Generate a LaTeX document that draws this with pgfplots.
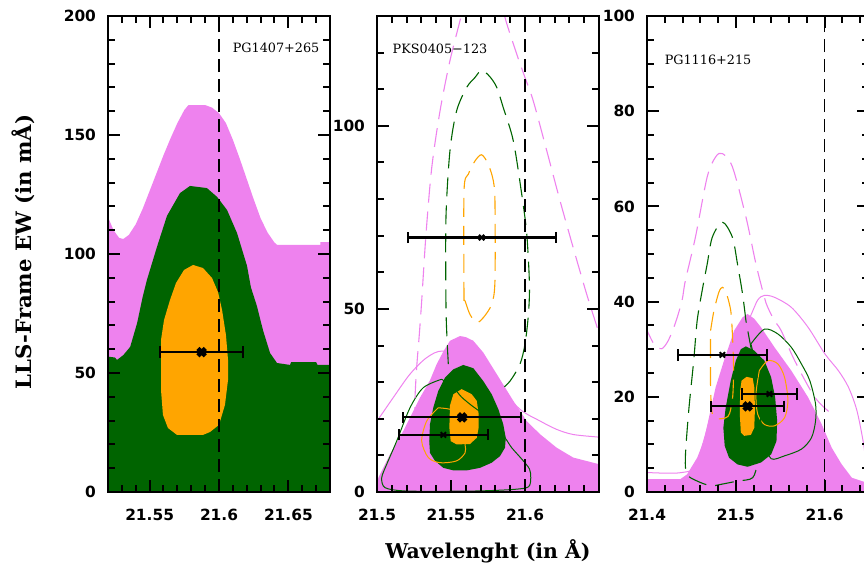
\documentclass[border=0pt]{standalone}
\usepackage{pgfplots}
\pgfplotsset{compat=1.18}
\usepackage{fontspec}
\newfontfamily\ticksf{DejaVu Sans}
\newfontfamily\labelsf{DejaVu Serif}

\definecolor{cviolet}{RGB}{238,130,238}
\definecolor{cgreen}{RGB}{0,100,0}
\definecolor{corange}{RGB}{255,165,0}

\tikzset{srclabel/.style={font=\labelsf\fontsize{6.4pt}{7pt}\selectfont}}

\pgfplotsset{
  panel/.style={
    scale only axis, width=111pt, height=238pt,
    anchor=south west,
    axis on top,
    axis line style={line width=1.4pt},
    every tick/.style={black, line width=1pt},
    major tick length=6pt, minor tick length=3.3pt,
    tick align=inside, xtick pos=both, ytick pos=both,
    xticklabel pos=lower, yticklabel pos=left,
    tick label style={font=\ticksf\bfseries\fontsize{7.7pt}{8pt}\selectfont},
    xticklabel style={yshift=-5pt},
    yticklabel style={xshift=-2.5pt},
  },
  vfill/.style={fill=cviolet, draw=none},
  gfill/.style={fill=cgreen, draw=none},
  ofill/.style={fill=corange, draw=none},
  thinc/.style={line width=0.5pt, smooth},
  dashc/.style={line width=0.55pt, smooth, dash pattern=on 9.5pt off 4.5pt},
  vline/.style={black, line width=0.85pt, dash pattern=on 6.5pt off 3.5pt},
  ebar/.style={black, line width=1pt, mark=x, mark size=1.9pt,
    error bars/x dir=both, error bars/x explicit,
    error bars/error bar style={line width=1.1pt},
    error bars/error mark options={rotate=90, mark size=2.8pt, line width=1.1pt}},
  ebarbold/.style={ebar, mark size=2.6pt, mark options={line width=2.2pt}},
}

\begin{document}
\begin{tikzpicture}[x=1pt,y=1pt]
\path[use as bounding box] (0,0) rectangle (432,282);
\clip (0,0) rectangle (432,282);

% ---------------- PG1407+265 ----------------
\begin{axis}[panel, at={(54pt,36pt)},
  xmin=21.52, xmax=21.68, ymin=0, ymax=200,
  xtick={21.55,21.6,21.65}, xticklabels={21.55,21.6,21.65},
  minor xtick={21.53,21.54,21.56,21.57,21.58,21.59,21.61,21.62,21.63,21.64,21.66,21.67},
  ytick={0,50,100,150,200}, yticklabels={0,50,100,150,200},
  minor ytick={10,20,30,40,60,70,80,90,110,120,130,140,160,170,180,190}]
\addplot[vfill] coordinates {(21.520,115.5)(21.524,110)(21.528,106.8)(21.531,106.3)(21.535,108)(21.540,112.5)(21.545,119)(21.550,126.5)(21.555,134)(21.560,141.5)(21.565,148.5)(21.570,155)(21.575,160.5)(21.578,162.6)(21.590,162.6)(21.595,161.5)(21.600,159.2)(21.605,155)(21.610,148)(21.615,140)(21.620,131.5)(21.625,123)(21.630,115)(21.635,109)(21.640,104.8)(21.642,103.8)(21.673,103.8)(21.673,105)(21.680,105)} \closedcycle;
\addplot[gfill] coordinates {(21.520,56.9)(21.525,56.5)(21.5265,55.5)(21.531,57.5)(21.536,61)(21.541,71)(21.545,82)(21.548,89)(21.5553,103)(21.5625,116)(21.5719,125.6)(21.5791,128.6)(21.5913,127.7)(21.5986,124)(21.6058,118.5)(21.613,108.8)(21.6202,95)(21.623,86)(21.6274,78)(21.6317,68)(21.6368,58.4)(21.6418,54.2)(21.6512,53.4)(21.652,54.6)(21.670,54.6)(21.671,53.4)(21.680,53.4)} \closedcycle;
\addplot[ofill] coordinates {(21.5813,95.4)(21.5885,94.1)(21.5950,89.9)(21.5993,84.0)(21.6022,76.5)(21.6050,66.0)(21.6065,55.5)(21.6065,47.1)(21.6043,36.6)(21.6000,28.2)(21.5935,25.2)(21.5885,24.0)(21.5697,24.0)(21.5632,26.9)(21.5596,32.4)(21.5582,42.9)(21.5582,63.9)(21.5604,72.3)(21.5647,80.7)(21.5690,87.8)(21.5748,93.3)} -- cycle;
\addplot[vline] coordinates {(21.6,0)(21.6,200)};
\addplot[ebarbold] coordinates {(21.5875,58.8) +- (0.03,0)};
\node[srclabel] at (rel axis cs:0.757,0.933) {PG1407+265};
\end{axis}

% ---------------- PKS0405-123 ----------------
\begin{axis}[panel, at={(188.5pt,36pt)},
  xmin=21.5, xmax=21.65, ymin=0, ymax=130,
  xtick={21.5,21.55,21.6}, xticklabels={21.5,21.55,21.6},
  minor xtick={21.51,21.52,21.53,21.54,21.56,21.57,21.58,21.59,21.61,21.62,21.63,21.64},
  ytick={0,50,100}, yticklabels={0,50,100},
  minor ytick={10,20,30,40,60,70,80,90,110,120}]
\addplot[vfill] coordinates {(21.500,1.5)(21.5009,3.9)(21.5088,10.3)(21.5178,16.7)(21.5291,25.8)(21.5358,30.5)(21.5403,34.9)(21.5450,38.5)(21.5493,41.3)(21.5561,42.6)(21.5600,42.3)(21.5651,41.3)(21.5718,38.1)(21.5809,32.2)(21.5921,24.9)(21.6011,19.4)(21.6101,15.8)(21.6214,12.1)(21.6326,9.4)(21.6500,7.6)} \closedcycle;
\addplot[gfill] coordinates {(21.5583,34.7)(21.5651,33.8)(21.5718,30.3)(21.5775,26.7)(21.5820,22.6)(21.5853,18.5)(21.5870,14.8)(21.5865,12.1)(21.5831,9.8)(21.5775,8.0)(21.5696,6.6)(21.5606,5.9)(21.5516,5.9)(21.5448,6.6)(21.5392,8.5)(21.5358,10.7)(21.5353,13.9)(21.5358,18.5)(21.5380,23.0)(21.5414,27.6)(21.5459,31.2)(21.5516,33.5)} -- cycle;
\addplot[ofill] coordinates {(21.5572,28.1)(21.5640,26.7)(21.5674,24.9)(21.5687,21.3)(21.5687,17.6)(21.5674,14.8)(21.5628,13.1)(21.5538,13.0)(21.5498,13.9)(21.5489,17.6)(21.5493,23.6)(21.5516,26.7)} -- cycle;
% second set of contours (solid)
\addplot[thinc, cviolet] coordinates {(21.500,19.6)(21.5009,19.9)(21.511,25.8)(21.5223,32.2)(21.5336,36.7)(21.5448,38.5)(21.5651,35.8)(21.5809,29.4)(21.5966,22.6)(21.6101,19.4)(21.6214,17.1)(21.6326,15.7)(21.6495,15.0)(21.6520,14.9)};
\addplot[thinc, cgreen] coordinates {(21.5437,30.8)(21.5313,28.5)(21.5223,23.0)(21.5133,13.9)(21.5066,7.6)(21.5032,3.9)(21.5054,1.2)(21.5178,0.3)(21.5426,0.2)(21.5696,0.3)(21.5921,0.7)(21.6023,1.4)(21.6039,3.9)(21.6030,6.3)(21.5978,9.0)(21.5910,12.1)(21.5865,14.8)(21.5786,18.5)(21.5696,21.9)(21.5640,23.6)(21.5572,25.9)(21.5516,28.5)(21.5437,30.8)};
\addplot[thinc, corange] coordinates {(21.5414,23.0)(21.5493,22.6)(21.5550,21.3)(21.5583,17.6)(21.5595,13.0)(21.5595,10.7)(21.5538,8.5)(21.5426,8.0)(21.5347,9.4)(21.5302,13.9)(21.5336,19.4)(21.5414,23.0)};
% third set of contours (dashed)
\addplot[dashc, cviolet] coordinates {(21.5255,18)(21.5257,25.8)(21.5268,34.0)(21.5286,43.1)(21.5302,52.2)(21.5331,70.4)(21.5370,88.6)(21.5426,104.1)(21.5493,117.8)(21.5566,129.6)(21.5600,136)(21.5720,140)(21.5840,136)(21.5865,129.6)(21.5944,119.6)(21.6000,113.2)(21.6056,106.8)(21.6147,93.2)(21.6237,79.5)(21.6326,66.7)(21.6417,54.0)(21.6495,44.0)(21.6530,39)};
\addplot[dashc, cgreen] coordinates {(21.5482,34.9)(21.5473,42)(21.5466,51.3)(21.5466,74.9)(21.5493,93.2)(21.5538,104.1)(21.5606,110.5)(21.5662,113.2)(21.5707,115.2)(21.5763,113.4)(21.5809,110.5)(21.5853,105.0)(21.5921,95.9)(21.5978,81.3)(21.6012,70.4)(21.6030,56.7)(21.6023,48.5)(21.6000,40.4)(21.5966,34.9)(21.5899,30.3)(21.5842,28.1)};
\addplot[dashc, corange] coordinates {(21.5588,52.2)(21.5588,82.2)(21.5617,86.8)(21.5662,90.4)(21.5707,92.1)(21.5752,89.5)(21.5786,85.0)(21.5797,79.5)(21.5797,57.6)(21.5775,51.3)(21.5718,47.6)(21.5674,46.3)(21.5628,48.5)(21.5595,52.2)(21.5588,52.2)};
\addplot[vline] coordinates {(21.6,0)(21.6,130)};
\addplot[ebar] coordinates {(21.5707,69.5) +- (0.05,0)};
\addplot[ebar] coordinates {(21.5448,15.6) +- (0.03,0)};
\addplot[ebarbold] coordinates {(21.5575,20.4) +- (0.04,0)};
\node[srclabel] at (rel axis cs:0.284,0.931) {PKS0405−123};
\end{axis}

% ---------------- PG1116+215 ----------------
\begin{axis}[panel, at={(323.5pt,36pt)},
  xmin=21.4, xmax=21.65, ymin=0, ymax=100,
  xtick={21.4,21.5,21.6}, xticklabels={21.4,21.5,21.6},
  minor xtick={21.42,21.44,21.46,21.48,21.52,21.54,21.56,21.58,21.62,21.64},
  ytick={0,20,40,60,80,100}, yticklabels={0,20,40,60,80,100},
  minor ytick={5,10,15,25,30,35,45,50,55,65,70,75,85,90,95}]
\addplot[vfill] coordinates {(21.40,2.7)(21.4375,2.7)(21.4451,3.7)(21.4565,7.2)(21.4640,10.7)(21.4697,15.6)(21.4773,22.0)(21.4867,27.6)(21.4981,33.9)(21.5076,36.7)(21.5133,37.4)(21.5208,36.4)(21.5284,34.6)(21.5436,30.4)(21.5625,25.5)(21.5814,19.9)(21.5966,14.3)(21.6080,9.3)(21.6193,5.8)(21.6307,3.0)(21.6466,2.0)(21.65,2.0)} \closedcycle;
\addplot[gfill] coordinates {(21.5114,30.6)(21.5208,29.7)(21.5322,27.6)(21.5398,24.1)(21.5443,19.9)(21.5466,14.9)(21.5458,10.7)(21.5398,7.9)(21.5284,6.2)(21.5133,5.3)(21.5019,5.8)(21.4924,7.2)(21.4875,9.7)(21.4860,13.5)(21.4886,17.7)(21.4943,23.4)(21.5000,27.6)(21.5057,30.0)} -- cycle;
\addplot[ofill] coordinates {(21.5122,24.2)(21.5190,23.9)(21.5208,22.0)(21.5216,17.7)(21.5208,13.5)(21.5170,12.0)(21.5095,11.8)(21.5057,12.5)(21.5045,16.4)(21.5049,21.3)(21.5065,23.4)} -- cycle;
% second set of contours (solid)
\addplot[thinc, cviolet] coordinates {(21.40,4.1)(21.4394,4.1)(21.4565,6.5)(21.4830,23.4)(21.5057,34.6)(21.5152,36.5)(21.5246,40.3)(21.5322,41.3)(21.5436,40.9)(21.5625,38.8)(21.5814,34.6)(21.6004,29.0)(21.6155,25.5)(21.6269,22.0)(21.6364,17.1)(21.6440,10.0)(21.6458,6.5)(21.6470,2)};
\addplot[thinc, cgreen] coordinates {(21.5170,31.1)(21.5322,34.2)(21.5474,33.2)(21.5625,30.4)(21.5739,26.9)(21.5833,23.4)(21.5898,18.5)(21.5898,14.9)(21.5852,11.4)(21.5739,9.0)(21.5549,7.6)(21.5398,7.0)(21.5322,10.7)(21.5303,17.7)(21.5265,23.4)(21.5208,28.3)(21.5170,31.1)};
\addplot[thinc, corange] coordinates {(21.5265,25.5)(21.5360,27.6)(21.5474,26.9)(21.5549,24.1)(21.5587,19.2)(21.5549,15.6)(21.5436,13.9)(21.5322,14.2)(21.5246,16.4)(21.5227,20.6)(21.5265,25.5)};
% third set of contours (dashed)
\addplot[dashc, cviolet] coordinates {(21.3977,35)(21.4011,33.5)(21.4091,30.7)(21.4167,30.1)(21.4239,31.8)(21.4318,35.4)(21.4394,40.2)(21.4432,44.4)(21.4545,53.5)(21.4678,66.2)(21.4773,70.4)(21.4849,71.1)(21.4962,68.3)(21.5114,57.8)(21.5227,47.9)(21.5322,40.9)(21.5360,38.8)(21.5435,36.0)(21.5511,33.9)(21.5663,27.6)(21.5890,19.9)(21.6080,16.4)};
\addplot[dashc, cgreen] coordinates {(21.5114,36.0)(21.5076,41.6)(21.5019,47.9)(21.4962,53.5)(21.4849,56.7)(21.4735,53.5)(21.4678,47.9)(21.4621,42.3)(21.4565,36.0)(21.4526,27.6)(21.4470,17.1)(21.4432,7.2)(21.4451,3.7)(21.4565,2.3)(21.4716,1.3)(21.4830,1.6)(21.5019,2.3)(21.5190,3.0)(21.5246,6.5)(21.5284,12.8)(21.5246,23.4)(21.5170,30.4)(21.5114,36.0)};
\addplot[dashc, corange] coordinates {(21.4716,33.9)(21.4754,38.1)(21.4810,42)(21.4849,43.0)(21.4890,42)(21.4943,38.1)(21.4962,33)(21.4975,26)(21.4965,20)(21.4930,16.5)(21.4886,15.6)(21.4790,15.4)(21.4735,16.5)(21.4716,22)(21.4716,33.9)};
\addplot[vline] coordinates {(21.6,0)(21.6,100)};
\addplot[ebar] coordinates {(21.4849,28.8) +- (0.05,0)};
\addplot[ebar] coordinates {(21.5379,20.6) +- (0.031,0)};
\addplot[ebarbold] coordinates {(21.5133,18.0) +- (0.041,0)};
\node[srclabel] at (rel axis cs:0.275,0.908) {PG1116+215};
\end{axis}

% shared axis titles
\node[rotate=90, font=\labelsf\bfseries\fontsize{10.6pt}{12pt}\selectfont] at (11.75,156) {LLS-Frame EW (in mÅ)};
\node[font=\labelsf\bfseries\fontsize{10.2pt}{12pt}\selectfont] at (244,6.5) {Wavelenght (in Å)};
\end{tikzpicture}
\end{document}
